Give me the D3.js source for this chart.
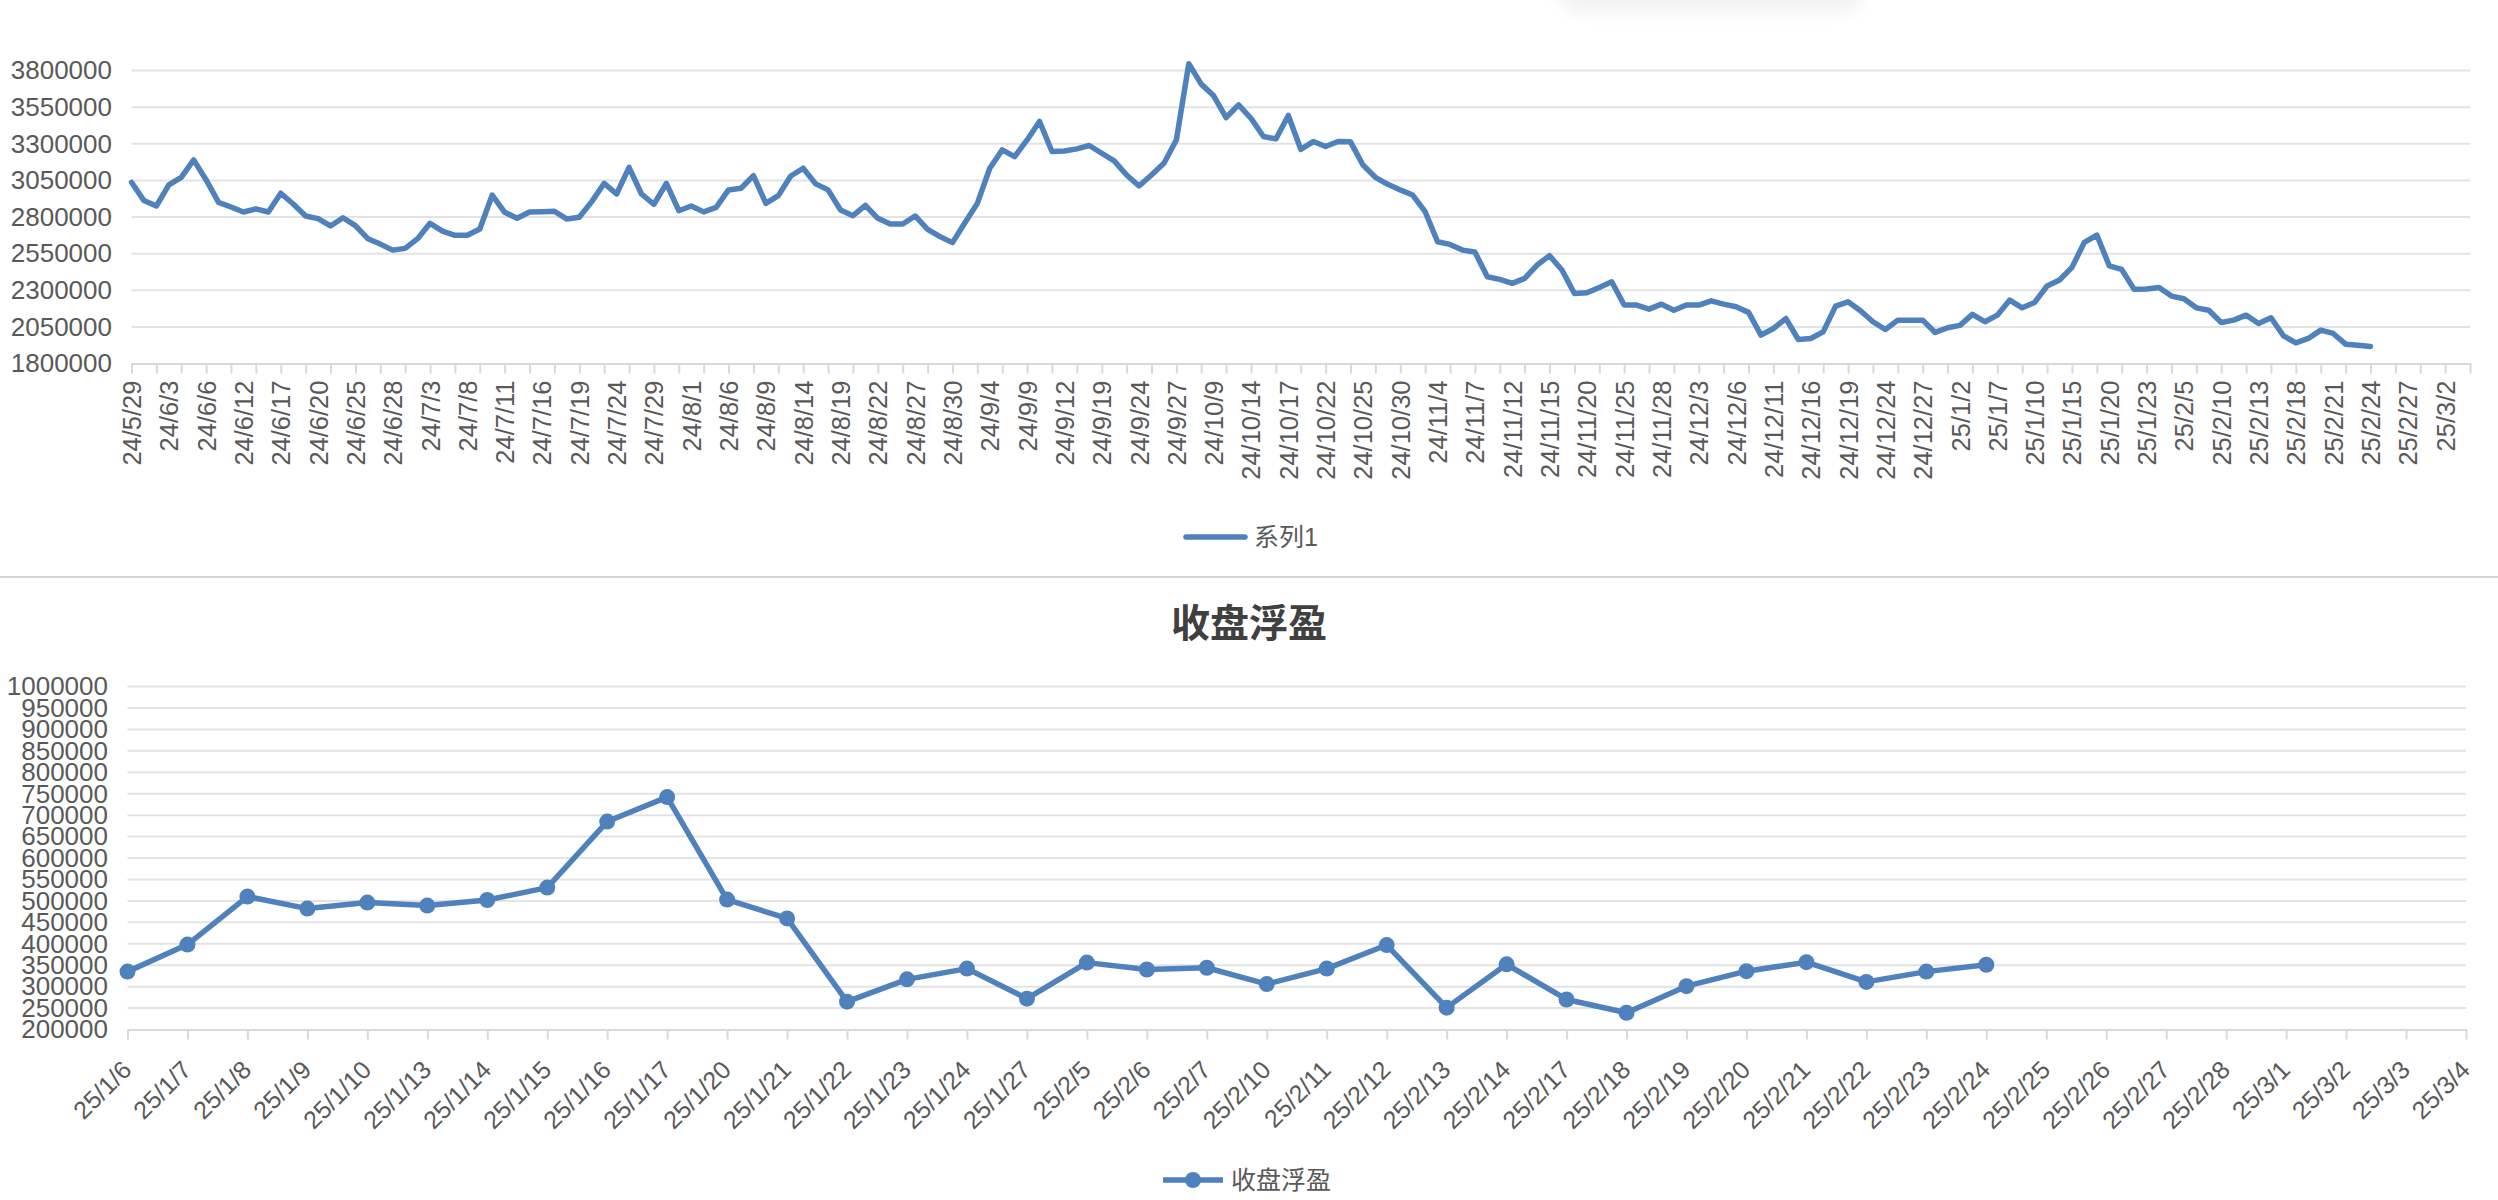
<!DOCTYPE html>
<html>
<head>
<meta charset="utf-8">
<script src="https://cdn.jsdelivr.net/npm/d3@7/dist/d3.min.js"></script>
<style>
  body { margin: 0; background: #fff; }
  text { font-family: "Liberation Sans", Arial, "Noto Sans CJK SC", sans-serif; }
</style>
</head>
<body>
<div id="chart"></div>
<script>
// top chart: daily categories (trading days, then calendar days after 2/21)
const topDates = [
  "24/5/29","24/5/30","24/5/31",
  "24/6/3","24/6/4","24/6/5","24/6/6","24/6/7","24/6/11","24/6/12","24/6/13","24/6/14","24/6/17","24/6/18","24/6/19","24/6/20","24/6/21","24/6/24","24/6/25","24/6/26","24/6/27","24/6/28",
  "24/7/1","24/7/2","24/7/3","24/7/4","24/7/5","24/7/8","24/7/9","24/7/10","24/7/11","24/7/12","24/7/15","24/7/16","24/7/17","24/7/18","24/7/19","24/7/22","24/7/23","24/7/24","24/7/25","24/7/26","24/7/29","24/7/30","24/7/31",
  "24/8/1","24/8/2","24/8/5","24/8/6","24/8/7","24/8/8","24/8/9","24/8/12","24/8/13","24/8/14","24/8/15","24/8/16","24/8/19","24/8/20","24/8/21","24/8/22","24/8/23","24/8/26","24/8/27","24/8/28","24/8/29","24/8/30",
  "24/9/2","24/9/3","24/9/4","24/9/5","24/9/6","24/9/9","24/9/10","24/9/11","24/9/12","24/9/13","24/9/18","24/9/19","24/9/20","24/9/23","24/9/24","24/9/25","24/9/26","24/9/27","24/9/30",
  "24/10/8","24/10/9","24/10/10","24/10/11","24/10/14","24/10/15","24/10/16","24/10/17","24/10/18","24/10/21","24/10/22","24/10/23","24/10/24","24/10/25","24/10/28","24/10/29","24/10/30","24/10/31",
  "24/11/1","24/11/4","24/11/5","24/11/6","24/11/7","24/11/8","24/11/11","24/11/12","24/11/13","24/11/14","24/11/15","24/11/18","24/11/19","24/11/20","24/11/21","24/11/22","24/11/25","24/11/26","24/11/27","24/11/28","24/11/29",
  "24/12/2","24/12/3","24/12/4","24/12/5","24/12/6","24/12/9","24/12/10","24/12/11","24/12/12","24/12/13","24/12/16","24/12/17","24/12/18","24/12/19","24/12/20","24/12/23","24/12/24","24/12/25","24/12/26","24/12/27","24/12/30","24/12/31",
  "25/1/2","25/1/3","25/1/6","25/1/7","25/1/8","25/1/9","25/1/10","25/1/13","25/1/14","25/1/15","25/1/16","25/1/17","25/1/20","25/1/21","25/1/22","25/1/23","25/1/24","25/1/27",
  "25/2/5","25/2/6","25/2/7","25/2/10","25/2/11","25/2/12","25/2/13","25/2/14","25/2/17","25/2/18","25/2/19","25/2/20","25/2/21","25/2/22","25/2/23","25/2/24","25/2/25","25/2/26","25/2/27","25/2/28",
  "25/3/1","25/3/2","25/3/3","25/3/4"
];

// 系列1 (up to 25/2/24)
const topValues = [
  3037000, 2912000, 2875000, 3019000, 3071000, 3190000, 3053000, 2900000, 2868000, 2834000,
  2855000, 2834000, 2962000, 2889000, 2807000, 2789000, 2739000, 2795000, 2741000, 2652000,
  2615000, 2574000, 2586000, 2652000, 2757000, 2704000, 2675000, 2675000, 2718000, 2950000,
  2832000, 2791000, 2834000, 2836000, 2839000, 2786000, 2798000, 2905000, 3030000, 2957000,
  3139000, 2957000, 2887000, 3030000, 2843000, 2875000, 2835000, 2866000, 2985000, 2996000,
  3082000, 2893000, 2946000, 3080000, 3133000, 3026000, 2985000, 2848000, 2809000, 2880000,
  2791000, 2752000, 2752000, 2807000, 2716000, 2666000, 2625000, 2761000, 2893000, 3133000,
  3258000, 3212000, 3326000, 3452000, 3247000, 3251000, 3265000, 3288000, 3235000, 3183000,
  3087000, 3012000, 3087000, 3167000, 3326000, 3846000, 3707000, 3627000, 3479000, 3565000,
  3474000, 3349000, 3333000, 3493000, 3262000, 3315000, 3281000, 3315000, 3313000, 3155000,
  3071000, 3023000, 2985000, 2950000, 2836000, 2631000, 2613000, 2574000, 2561000, 2392000,
  2374000, 2347000, 2381000, 2472000, 2536000, 2438000, 2278000, 2283000, 2319000, 2358000,
  2199000, 2199000, 2171000, 2205000, 2164000, 2199000, 2199000, 2228000, 2205000, 2187000,
  2149000, 1994000, 2039000, 2107000, 1964000, 1971000, 2016000, 2192000, 2221000, 2160000,
  2085000, 2032000, 2096000, 2096000, 2096000, 2012000, 2044000, 2060000, 2135000, 2085000,
  2130000, 2233000, 2180000, 2217000, 2329000, 2370000, 2456000, 2627000, 2677000, 2467000,
  2442000, 2306000, 2308000, 2319000, 2260000, 2242000, 2180000, 2164000, 2080000, 2096000,
  2130000, 2073000, 2112000, 1989000, 1941000, 1971000, 2028000, 2005000, 1932000, 1925000,
  1916000
];

const topYTicks = [1800000, 2050000, 2300000, 2550000, 2800000, 3050000, 3300000, 3550000, 3800000];

// bottom chart: 收盘浮盈
const bottomDates = [
  "25/1/6","25/1/7","25/1/8","25/1/9","25/1/10","25/1/13","25/1/14","25/1/15","25/1/16","25/1/17",
  "25/1/20","25/1/21","25/1/22","25/1/23","25/1/24","25/1/27","25/2/5","25/2/6","25/2/7","25/2/10",
  "25/2/11","25/2/12","25/2/13","25/2/14","25/2/17","25/2/18","25/2/19","25/2/20","25/2/21","25/2/22",
  "25/2/23","25/2/24","25/2/25","25/2/26","25/2/27","25/2/28","25/3/1","25/3/2","25/3/3","25/3/4"
];

const bottomValues = [
  335000, 398000, 510000, 482000, 496000, 489000, 502000, 531000, 685000, 742000,
  503000, 459000, 265000, 317000, 342000, 272000, 356000, 340000, 344000, 306000,
  342000, 397000, 251000, 352000, 270000, 239000, 301000, 336000, 357000, 311000,
  335000, 351000
];

const bottomYTicks = [200000, 250000, 300000, 350000, 400000, 450000, 500000, 550000, 600000,
  650000, 700000, 750000, 800000, 850000, 900000, 950000, 1000000];

const lineColor = "#4f81bd";
const gridColor = "#e3e3e3";
const axisColor = "#d9d9d9";
const textColor = "#595959";

const svg = d3.select("#chart")
    .append("svg")
    .attr("width", 2498)
    .attr("height", 1200);

// faint shadow at the top edge (popup shadow in the screenshot)
const defs = svg.append("defs");
defs.append("filter").attr("id", "blur")
    .attr("x", "-50%").attr("y", "-50%").attr("width", "200%").attr("height", "200%")
    .append("feGaussianBlur").attr("stdDeviation", 9);
svg.append("rect")
    .attr("x", 1555).attr("y", -45)
    .attr("width", 310).attr("height", 58)
    .attr("rx", 28)
    .attr("fill", "#000")
    .attr("opacity", 0.05)
    .attr("filter", "url(#blur)");

// ---------- top chart ----------
const xTop = d3.scalePoint().domain(topDates).range([131.5, 2470]);
const yTop = d3.scaleLinear().domain([1800000, 3800000]).range([363.5, 70.5]);

svg.append("g")
    .selectAll("line")
    .data(topYTicks.slice(1))
    .enter().append("line")
    .attr("x1", 131.5)
    .attr("x2", 2470)
    .attr("y1", d => yTop(d))
    .attr("y2", d => yTop(d))
    .attr("stroke", gridColor)
    .attr("stroke-width", 2);

// tick marks every 2 categories
const topTickAxis = svg.append("g")
    .attr("transform", "translate(0," + yTop(1800000) + ")")
    .call(d3.axisBottom(xTop)
        .tickValues(topDates.filter((d, i) => i % 2 === 0))
        .tickSize(10)
        .tickSizeOuter(0)
        .tickFormat(""));
topTickAxis.select(".domain").attr("stroke", axisColor).attr("stroke-width", 2);
topTickAxis.selectAll(".tick line").attr("stroke", axisColor).attr("stroke-width", 2);

// labels every 3 categories
const topLabelAxis = svg.append("g")
    .attr("transform", "translate(0," + yTop(1800000) + ")")
    .call(d3.axisBottom(xTop)
        .tickValues(topDates.filter((d, i) => i % 3 === 0))
        .tickSize(0));
topLabelAxis.select(".domain").remove();
topLabelAxis.selectAll("text")
    .attr("x", 0).attr("y", 0).attr("dy", 0)
    .attr("transform", "translate(9,17) rotate(-90)")
    .style("text-anchor", "end")
    .attr("fill", textColor)
    .attr("font-size", 25.5);

const topYAxis = svg.append("g")
    .attr("transform", "translate(112,0)")
    .call(d3.axisLeft(yTop).tickValues(topYTicks).tickSize(0).tickPadding(0).tickFormat(d3.format("d")));
topYAxis.select(".domain").remove();
topYAxis.selectAll("text").attr("fill", textColor).attr("font-size", 26);

const topLine = d3.line()
    .x((d, i) => xTop(topDates[i]))
    .y(d => yTop(d));

svg.append("path")
    .datum(topValues)
    .attr("d", topLine)
    .attr("fill", "none")
    .attr("stroke", lineColor)
    .attr("stroke-width", 5.5)
    .attr("stroke-linejoin", "round")
    .attr("stroke-linecap", "round");

// legend 系列1
svg.append("line")
    .attr("x1", 1186).attr("x2", 1245)
    .attr("y1", 537).attr("y2", 537)
    .attr("stroke", lineColor)
    .attr("stroke-width", 5.5)
    .attr("stroke-linecap", "round");
svg.append("text")
    .attr("x", 1254).attr("y", 546)
    .attr("fill", textColor)
    .attr("font-size", 25)
    .text("系列1");

// separator between the two charts
svg.append("line")
    .attr("x1", 0).attr("x2", 2498)
    .attr("y1", 577).attr("y2", 577)
    .attr("stroke", "#d6d6d6")
    .attr("stroke-width", 2);

// ---------- bottom chart ----------
svg.append("text")
    .attr("x", 1249).attr("y", 637)
    .attr("text-anchor", "middle")
    .attr("font-family", "'Noto Sans CJK SC', sans-serif")
    .attr("font-weight", "bold")
    .attr("font-size", 39)
    .attr("fill", "#404040")
    .text("收盘浮盈");

const xBot = d3.scalePoint().domain(bottomDates).range([127.5, 2466]);
const yBot = d3.scaleLinear().domain([200000, 1000000]).range([1029.5, 686.5]);

svg.append("g")
    .selectAll("line")
    .data(bottomYTicks.slice(1))
    .enter().append("line")
    .attr("x1", 127.5)
    .attr("x2", 2466)
    .attr("y1", d => yBot(d))
    .attr("y2", d => yBot(d))
    .attr("stroke", gridColor)
    .attr("stroke-width", 2);

const botXAxis = svg.append("g")
    .attr("transform", "translate(0," + yBot(200000) + ")")
    .call(d3.axisBottom(xBot).tickSize(10).tickSizeOuter(0));
botXAxis.select(".domain").attr("stroke", axisColor).attr("stroke-width", 2);
botXAxis.selectAll(".tick line").attr("stroke", axisColor).attr("stroke-width", 2);
botXAxis.selectAll("text")
    .attr("x", 0).attr("y", 0).attr("dy", 0)
    .attr("transform", "translate(5,42) rotate(-45)")
    .style("text-anchor", "end")
    .attr("fill", textColor)
    .attr("font-size", 25);

const botYAxis = svg.append("g")
    .attr("transform", "translate(108,0)")
    .call(d3.axisLeft(yBot).tickValues(bottomYTicks).tickSize(0).tickPadding(0).tickFormat(d3.format("d")));
botYAxis.select(".domain").remove();
botYAxis.selectAll("text").attr("fill", textColor).attr("font-size", 26);

const botLine = d3.line()
    .x((d, i) => xBot(bottomDates[i]))
    .y(d => yBot(d));

svg.append("path")
    .datum(bottomValues)
    .attr("d", botLine)
    .attr("fill", "none")
    .attr("stroke", lineColor)
    .attr("stroke-width", 5.5)
    .attr("stroke-linejoin", "round");

svg.append("g")
    .selectAll("circle")
    .data(bottomValues)
    .enter().append("circle")
    .attr("cx", (d, i) => xBot(bottomDates[i]))
    .attr("cy", d => yBot(d))
    .attr("r", 8)
    .attr("fill", lineColor);

// legend 收盘浮盈
svg.append("line")
    .attr("x1", 1163).attr("x2", 1223)
    .attr("y1", 1180).attr("y2", 1180)
    .attr("stroke", lineColor)
    .attr("stroke-width", 5.5);
svg.append("circle")
    .attr("cx", 1193).attr("cy", 1180)
    .attr("r", 8)
    .attr("fill", lineColor);
svg.append("text")
    .attr("x", 1231).attr("y", 1189)
    .attr("fill", textColor)
    .attr("font-size", 25)
    .text("收盘浮盈");
</script>
</body>
</html>
